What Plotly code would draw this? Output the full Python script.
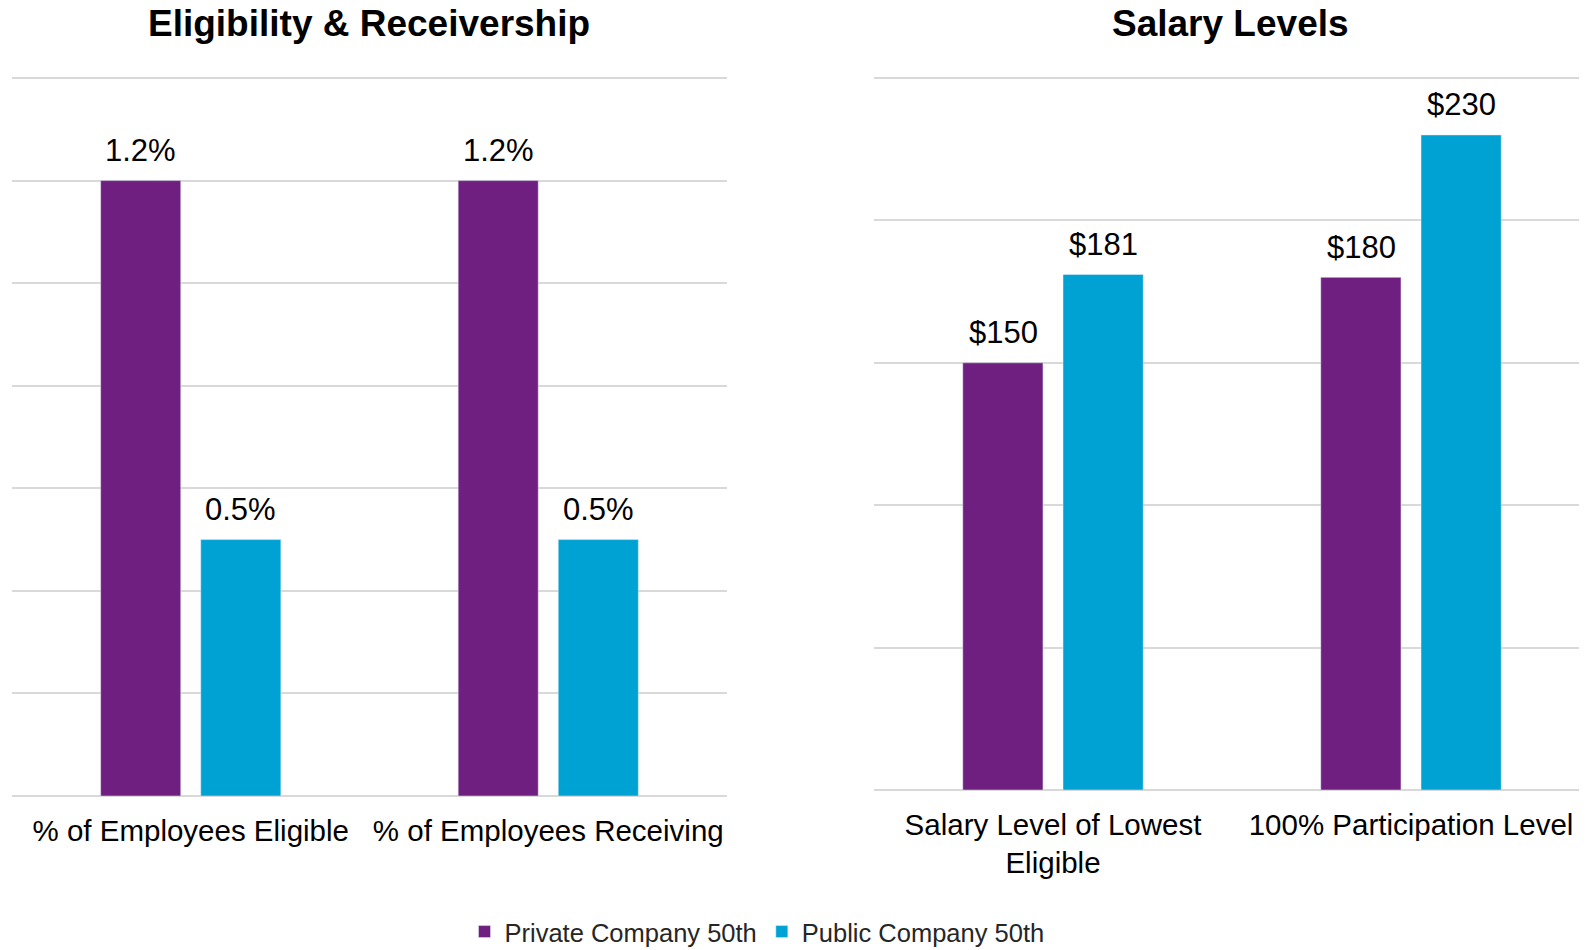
import plotly.graph_objects as go

# ---- data ----
SERIES = ["Private Company 50th", "Public Company 50th"]
COLORS = ["#6E1F7F", "#00A2D3"]

ELIG_CATS = ["% of Employees Eligible", "% of Employees Receiving"]
ELIG_PRIVATE = [1.2, 1.2]
ELIG_PUBLIC = [0.5, 0.5]

SAL_CATS = ["Salary Level of Lowest<br>Eligible", "100% Participation Level"]
SAL_PRIVATE = [150, 180]
SAL_PUBLIC = [181, 230]

FONT = "Liberation Sans, Arial, sans-serif"
GRID = "#D9D9D9"
# page has an 8px body margin; figure is offset by 8px (right edge may overflow)
W, H = 1587, 942

fig = go.Figure()
annotations = []

panels = [
    ("x", "y", ELIG_CATS, [ELIG_PRIVATE, ELIG_PUBLIC], "{:.1f}%"),
    ("x2", "y2", SAL_CATS, [SAL_PRIVATE, SAL_PUBLIC], "${:.0f}"),
]
for p, (xa, ya, cats, series_vals, fmt) in enumerate(panels):
    for i, (name, color, vals) in enumerate(zip(SERIES, COLORS, series_vals)):
        fig.add_trace(go.Bar(
            x=cats, y=vals, name=name, marker_color=color,
            xaxis=xa, yaxis=ya, legendgroup=name, showlegend=(p == 0),
        ))
        # value labels above each bar
        for c, v in zip(cats, vals):
            annotations.append(dict(
                x=c, y=v, xref=xa, yref=ya, text=fmt.format(v),
                xshift=(-50 if i == 0 else 50), yshift=30,
                xanchor="center", yanchor="middle", showarrow=False,
                font=dict(size=31, color="#000000"),
            ))

axis_x = dict(showgrid=False, showline=False, ticks="", zeroline=False, automargin=False,
              tickfont=dict(size=29.5, color="#000000"), ticklabelstandoff=14)
axis_y = dict(showticklabels=False, ticks="", showline=False, automargin=False,
              gridcolor=GRID, gridwidth=1.5,
              zeroline=True, zerolinecolor=GRID, zerolinewidth=2)

annotations += [
    dict(text="<b>Eligibility & Receivership</b>", x=361 / W, y=1 - 15.5 / H,
         xref="paper", yref="paper", xanchor="center", yanchor="middle",
         showarrow=False, font=dict(size=37, color="#000000")),
    dict(text="<b>Salary Levels</b>", x=1222 / W, y=1 - 15.5 / H,
         xref="paper", yref="paper", xanchor="center", yanchor="middle",
         showarrow=False, font=dict(size=37, color="#000000")),
]

fig.update_layout(
    width=W, height=H,
    margin=dict(l=0, r=0, t=0, b=0, pad=0, autoexpand=False),
    paper_bgcolor="white", plot_bgcolor="white",
    font=dict(family=FONT, color="#000000"),
    barmode="group", bargap=0.44, bargroupgap=0.2,
    xaxis=dict(domain=[4 / W, 719 / W], anchor="y", **axis_x),
    yaxis=dict(domain=[154 / H, 874 / H], anchor="x",
               range=[0, 1.404], dtick=0.2, **axis_y),
    xaxis2=dict(domain=[866 / W, 1582 / W], anchor="y2", **axis_x),
    yaxis2=dict(domain=[160 / H, 874 / H], anchor="x2",
                range=[0, 250.7], dtick=50, **axis_y),
    legend=dict(orientation="h", x=749 / W, xanchor="center",
                y=18 / H, yanchor="middle",
                font=dict(size=25.5, color="#262626"),
                itemwidth=30, traceorder="normal"),
    showlegend=True,
    annotations=annotations,
)

fig.write_html("out.html")
